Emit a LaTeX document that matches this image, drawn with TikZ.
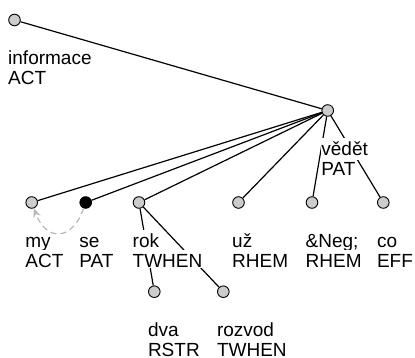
\documentclass[tikz,border=0pt]{standalone}
\usepackage{fontspec}
\setmainfont{Liberation Sans}
\usetikzlibrary{calc,arrows.meta}
\definecolor{nodegray}{gray}{0.8}
\definecolor{corefgray}{gray}{0.72}
\tikzset{
  tnode/.style={
    circle, draw, line width=0.9pt, fill=nodegray,
    minimum size=11.6pt, inner sep=0pt
  },
  tnodeblack/.style={tnode, fill=black},
  dep/.style={line width=1.2pt},
  lemma/.style={
    anchor=base west, fill=white, inner xsep=0.5pt, inner ysep=0.5pt,
    text height=17pt, text depth=4.5pt
  },
  functor/.style={lemma, inner ysep=0pt, text depth=1pt},
  coref/.style={
    corefgray, line width=1.2pt, dash pattern=on 6pt off 4pt,
    -{Stealth[length=9pt,width=7.5pt]}
  }
}

\begin{document}
\begin{tikzpicture}[x=1pt,y=-1pt,font=\fontsize{19}{20}\selectfont]
  \useasboundingbox (0,0) rectangle (415,358);
  \def\lx{-7}
  \def\ly{44.7}
  \def\fy{64.7}

  % tree nodes
  \node[tnode] (informace) at (14.5,20) {};
  \node[tnode] (vedet) at (327.7,110.5) {};
  \node[tnode] (my) at (31.7,202.5) {};
  \node[tnodeblack] (se) at (85.7,202.5) {};
  \node[tnode] (rok) at (139,202.5) {};
  \node[tnode] (uz) at (238.5,202.5) {};
  \node[tnode] (neg) at (312,202.5) {};
  \node[tnode] (co) at (383.3,202.5) {};
  \node[tnode] (dva) at (154.3,291.7) {};
  \node[tnode] (rozvod) at (223.3,291.7) {};

  % dependency edges
  \draw[dep] (informace) -- (vedet);
  \foreach \c in {my,se,rok,uz,neg,co}
    \draw[dep] (vedet) -- (\c);
  \draw[dep] (rok) -- (dva);
  \draw[dep] (rok) -- (rozvod);

  % lemma and functor under each node, white box hides the edges
  \foreach \n/\lem/\fun in {informace/informace/ACT, vedet/vědět/PAT,
      my/my/ACT, se/se/PAT, rok/rok/TWHEN, uz/už/RHEM,
      neg/{\&Neg;}/RHEM, co/co/EFF, dva/dva/RSTR, rozvod/rozvod/TWHEN} {
    \node[lemma] (\n-lem) at ($(\n)+(\lx,\ly)$) {\lem};
    \node[functor] (\n-fun) at ($(\n)+(\lx,\fy)$) {\fun};
  }

  % coreference
  \draw[coref] (se) .. controls +(-14,40) and +(14,38) .. (my);
\end{tikzpicture}
\end{document}
